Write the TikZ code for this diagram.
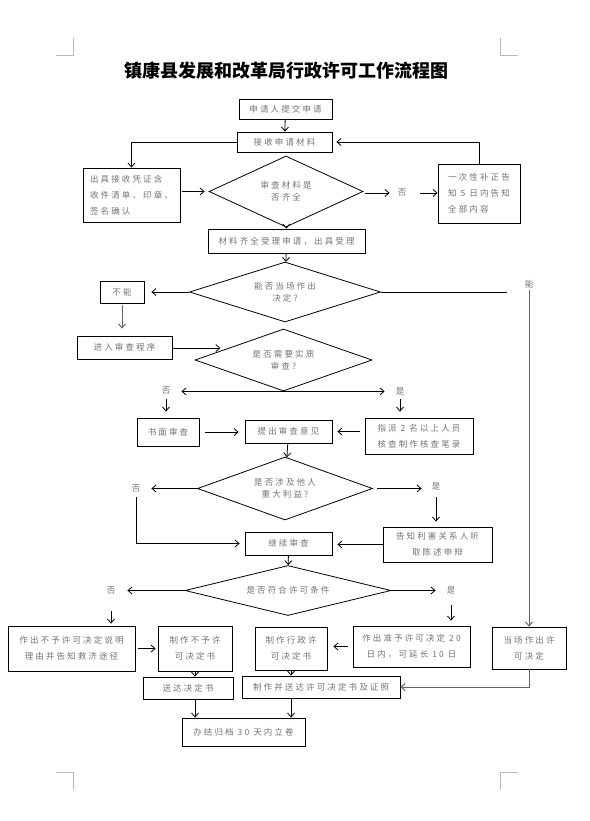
\documentclass[tikz,border=0pt]{standalone}
\usepackage{fontspec}
\setmainfont{Noto Sans CJK SC}
\newfontfamily\kuangfont[LetterSpace=25]{Noto Sans CJK SC}
\usetikzlibrary{arrows.meta,shapes.geometric,calc}
\definecolor{wenzi}{RGB}{115,115,115}
\definecolor{xianhui}{RGB}{100,100,100}
\definecolor{jiaobiao}{RGB}{185,185,185}
\tikzset{
  kuang/.style={rectangle, draw=black, line width=0.8pt, align=#1, text=wenzi,
                font=\kuangfont\fontsize{8.5pt}{16pt}\selectfont, inner sep=0pt},
  kuang/.default=center,
  ling/.style={diamond, aspect=4, draw=black, line width=0.8pt, align=center, text=wenzi,
               font=\kuangfont\fontsize{8.5pt}{12pt}\selectfont, inner sep=0pt},
  biao/.style={text=wenzi, font=\kuangfont\fontsize{8.5pt}{10pt}\selectfont, inner sep=2pt},
  arr/.style={-{Straight Barb[length=4pt,width=7pt]}, line width=0.8pt, draw=black},
  arrg/.style={arr, draw=xianhui, line width=1pt},
}
\begin{document}
\begin{tikzpicture}[x=1pt,y=-1pt]
  \useasboundingbox (0,0) rectangle (589,821);
  \draw[jiaobiao, line width=0.6pt] (56,55) -- (73,55) -- (73,38);
  \draw[jiaobiao, line width=0.6pt] (500,38) -- (500,55) -- (518,55);
  \draw[jiaobiao, line width=0.6pt] (56,772) -- (73,772) -- (73,790);
  \draw[jiaobiao, line width=0.6pt] (500,790) -- (500,772) -- (518,772);

  \node (biaoti) at (286,71) {\fontsize{18pt}{20pt}\selectfont\bfseries 镇康县发展和改革局行政许可工作流程图};

  \node[kuang, minimum width=93pt, minimum height=20pt] (shenqing) at (285.5,109) {申请人提交申请};
  \node[kuang, minimum width=95pt, minimum height=20pt] (jieshou) at (284.5,142) {接收申请材料};
  \node[kuang=left, minimum width=97pt, minimum height=54pt] (pingzheng) at (131.5,195)
    {出具接收凭证含\\收件清单、印章、\\签名确认};
  \node[ling, minimum width=154pt, minimum height=71pt] (qiquan) at (286,191.5) {审查材料是\\否齐全};
  \node[biao] (fou1) at (402,193) {否};
  \node[kuang=left, minimum width=82pt, minimum height=59pt] (buzheng) at (479,193.5)
    {一次性补正告\\知 5 日内告知\\全部内容};
  \node[kuang, minimum width=157pt, minimum height=24pt] (shouli) at (286.5,241) {材料齐全受理申请，出具受理};
  \node[ling, minimum width=191pt, minimum height=60pt] (dangchangpd) at (285,292) {能否当场作出\\决定?};
  \node[kuang, minimum width=44pt, minimum height=22pt] (buneng) at (122,292) {不能};
  \coordinate (nengend) at (507,292);
  \node[biao] (neng) at (529,284) {能};
  \node[kuang, minimum width=95pt, minimum height=23pt] (jinru) at (124.5,347.5) {进入审查程序};
  \node[ling, minimum width=177pt, minimum height=62pt] (shizhi) at (283.5,360) {是否需要实质\\审查?};
  \node[biao] (fou2) at (166,391) {否};
  \node[biao] (shi2) at (400,391) {是};
  \node[kuang, minimum width=62pt, minimum height=28pt] (shumian) at (168,432) {书面审查};
  \node[kuang, minimum width=87pt, minimum height=23pt] (yijian) at (288.5,431.5) {提出审查意见};
  \node[kuang, minimum width=108pt, minimum height=36pt] (zhipai) at (419,436) {指派 2 名以上人员\\核查制作核查笔录};
  \node[ling, minimum width=175pt, minimum height=63pt] (liyi) at (285,488.5) {是否涉及他人\\重大利益?};
  \node[biao] (fou3) at (136,488.5) {否};
  \node[biao] (shi3) at (436,486) {是};
  \node[kuang, minimum width=109pt, minimum height=35pt] (gaozhi) at (437.5,544.5) {告知利害关系人听\\取陈述申辩};
  \node[kuang, minimum width=87pt, minimum height=23pt] (jixu) at (288.5,543.5) {继续审查};
  \node[ling, minimum width=206pt, minimum height=50pt] (fuhe) at (288,590.5) {是否符合许可条件};
  \node[biao] (fou4) at (111,590.5) {否};
  \node[biao] (shi4) at (451,590.5) {是};
  \node[kuang, minimum width=127pt, minimum height=45pt] (buyu) at (71.5,648.5) {作出不予许可决定说明\\理由并告知救济途径};
  \node[kuang, minimum width=74pt, minimum height=45pt] (buyushu) at (195,648.5) {制作不予许\\可决定书};
  \node[kuang, minimum width=72pt, minimum height=43pt] (xukeshu) at (291,648.5) {制作行政许\\可决定书};
  \node[kuang, minimum width=117pt, minimum height=41pt] (zhunyu) at (411.5,646.5) {作出准予许可决定 20\\日内，可延长 10 日};
  \node[kuang, minimum width=74pt, minimum height=42pt] (dangchang) at (529,648) {当场作出许\\可决定};
  \node[kuang, minimum width=90pt, minimum height=22pt] (songda) at (188,688) {送达决定书};
  \node[kuang, minimum width=158pt, minimum height=22pt] (zhizuo) at (321,687) {制作并送达许可决定书及证照};
  \node[kuang, minimum width=123pt, minimum height=28pt] (banjie) at (243.5,732) {办结归档 30 天内立卷};

  \draw[arr] (shenqing) -- (jieshou);
  \draw[arr] (jieshou.west) -| (pingzheng.north);
  \draw[arr, shorten >=4pt] (buzheng.north) |- (jieshou.east);
  \draw[arr, shorten <=2pt, shorten >=4pt] (pingzheng.east |- qiquan.west) -- (qiquan.west);
  \draw[arr, shorten <=2pt, shorten >=6pt] (qiquan.east |- fou1.west) -- (fou1.west);
  \draw[arr, shorten <=12pt] (fou1.east) -- (fou1.east -| buzheng.west);
  \draw[arr] (qiquan) -- (shouli);
  \draw[arr] (shouli) -- (dangchangpd);
  \draw[arr, shorten >=7pt] (dangchangpd.west) -- (buneng.east);
  \draw[line width=0.8pt] (dangchangpd.east) -- (nengend);
  \draw[arrg] (neng.south) -- (dangchang.north);
  \draw[arrg, shorten <=2pt, shorten >=7pt] (buneng.south) -- (buneng.south |- jinru.north);
  \coordinate (shizhiru) at ($(shizhi.west)!0.38!(shizhi.north)$);
  \draw[arr, shorten >=8pt] (jinru.east |- shizhiru) -- (shizhiru);
  \draw[arr, shorten >=9pt] (shizhi.south) -- (shizhi.south -| fou2.east);
  \draw[arr, shorten >=9pt] (shizhi.south) -- (shizhi.south -| shi2.west);
  \draw[arr, shorten <=2pt, shorten >=6pt] (fou2.south) -- (fou2.south |- shumian.north);
  \draw[arr, shorten <=2pt, shorten >=6pt] (shi2.south) -- (shi2.south |- zhipai.north);
  \draw[arr, shorten <=6pt, shorten >=6pt] (shumian.east) -- (shumian.east -| yijian.west);
  \draw[arr, shorten <=5pt, shorten >=5pt] (zhipai.west |- yijian.east) -- (yijian.east);
  \draw[arr] (yijian) -- (liyi);
  \draw[arr, shorten >=9pt] (liyi.west) -- (fou3.east);
  \draw[arr, shorten <=3pt, shorten >=5pt] (fou3.south) |- (jixu.west);
  \draw[arr, shorten <=4pt, shorten >=8pt] (liyi.east) -- (liyi.east -| shi3.west);
  \draw[arr, shorten <=5pt, shorten >=5pt] (shi3.south) -- (shi3.south |- gaozhi.north);
  \draw[arr, shorten >=5pt] (gaozhi.west) -- (gaozhi.west -| jixu.east);
  \draw[arr] (jixu) -- (fuhe);
  \draw[arr, shorten >=10pt] (fuhe.west) -- (fou4.east);
  \draw[arr, shorten <=15pt, shorten >=2pt] (fou4.south) -- (fou4.south |- buyu.north);
  \draw[arr, shorten >=9pt] (fuhe.east) -- (shi4.west);
  \draw[arr, shorten <=9pt, shorten >=5pt] (shi4.south) -- (shi4.south |- zhunyu.north);
  \draw[arr, shorten <=3pt, shorten >=2pt] (buyu.east) -- (buyu.east -| buyushu.west);
  \draw[arr, shorten <=5pt, shorten >=6pt] (zhunyu.west) -- (zhunyu.west -| xukeshu.east);
  \draw[arr] (buyushu.south) -- (buyushu.south |- songda.north);
  \draw[arr] (xukeshu.south) -- (xukeshu.south |- zhizuo.north);
  \draw[arrg] (dangchang.south) |- (zhizuo.east);
  \draw[arr] (buyushu.south |- songda.south) -- (buyushu.south |- banjie.north);
  \draw[arr] (xukeshu.south |- zhizuo.south) -- (xukeshu.south |- banjie.north);
\end{tikzpicture}
\end{document}
